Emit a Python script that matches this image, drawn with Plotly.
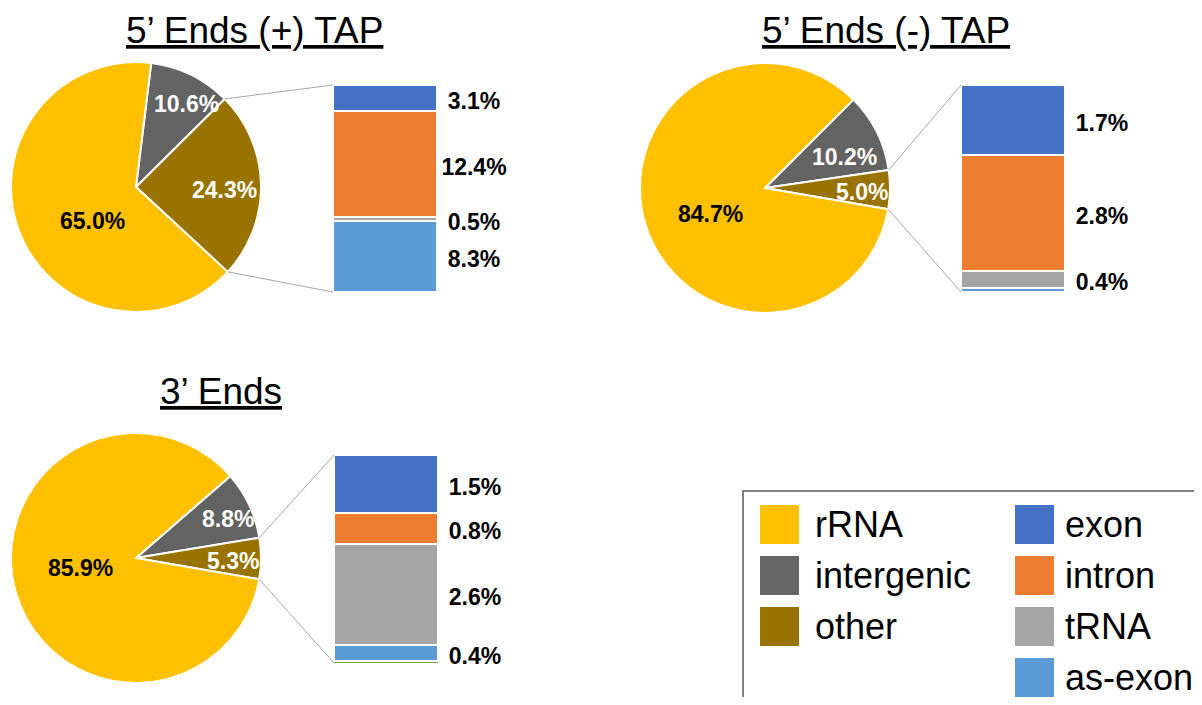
import math
import plotly.graph_objects as go

W, H = 1202, 705
OFF = 8  # page body margin around the plot div
FIG_W, FIG_H = W - 2 * OFF, H - 2 * OFF  # fits the window without scrollbars
FONT = "Liberation Sans, Arial, sans-serif"

# ---- data -------------------------------------------------------------
pie_labels = ["intergenic", "other", "rRNA"]
pie_colors = ["#636363", "#997300", "#FFC000"]
pie_text_colors = ["white", "white", "black"]

bar_labels = ["exon", "intron", "tRNA", "as-exon", "minor"]
bar_colors = ["#4472C4", "#ED7D31", "#A5A5A5", "#5B9BD5", "#70AD47"]

titles = ["5’ Ends (+) TAP", "5’ Ends (-) TAP", "3’ Ends"]

plus_tap_pie = [10.6, 24.3, 65.0]
minus_tap_pie = [10.2, 5.0, 84.7]
three_end_pie = [8.8, 5.3, 85.9]

plus_tap_bar = [3.1, 12.4, 0.5, 8.3, 0.0]
minus_tap_bar = [1.7, 2.8, 0.4, 0.1, 0.0]
three_end_bar = [1.5, 0.8, 2.6, 0.4, 0.06]

legend_left = ["rRNA", "intergenic", "other"]
legend_left_colors = ["#FFC000", "#666666", "#997300"]
legend_right = ["exon", "intron", "tRNA", "as-exon"]
legend_right_colors = ["#4472C4", "#ED7D31", "#A5A5A5", "#5B9BD5"]

# ---- panel geometry (window pixels) -----------------------------------
# lab: per slice (angle shift in degrees, radius fraction) for the slice labels
panels = [
    dict(pie=plus_tap_pie, bar=plus_tap_bar, title=titles[0],
         cx=136, cy=187, r=125, rot=7, bx=(333, 437), by=(85, 292), tx=254, ty=30,
         lab=[(5, 0.78), (3, 0.71), (-18, 0.445)]),
    dict(pie=minus_tap_pie, bar=minus_tap_bar, title=titles[1],
         cx=765, cy=188, r=125, rot=45, bx=(961, 1065), by=(85, 292), tx=886, ty=30,
         lab=[(5.5, 0.68), (1.4, 0.78), (-8, 0.48)]),
    dict(pie=three_end_pie, bar=three_end_bar, title=titles[2],
         cx=136, cy=558, r=125, rot=49, bx=(334, 438), by=(455, 663), tx=221, ty=391,
         lab=[(2, 0.80), (1.7, 0.78), (5.5, 0.455)]),
]
LABEL_AREA = 80  # px to the right of each bar kept for the value labels
LABEL_DX = 37    # px from bar right edge to label centre
LABEL_DY = 5     # px the value labels sit below the segment middle


def px(x):
    return (x - OFF) / FIG_W


def py(y):
    return 1 - (y - OFF) / FIG_H


fig = go.Figure()
shapes = []
annotations = []

for i, p in enumerate(panels):
    n = "" if i == 0 else str(i + 1)

    # pie
    fig.add_trace(
        go.Pie(
            labels=pie_labels,
            values=p["pie"],
            sort=False,
            direction="clockwise",
            rotation=p["rot"],
            marker=dict(colors=pie_colors, line=dict(color="white", width=2)),
            textinfo="none",
            domain=dict(
                x=[px(p["cx"] - p["r"]), px(p["cx"] + p["r"])],
                y=[py(p["cy"] + p["r"]), py(p["cy"] - p["r"])],
            ),
            showlegend=False,
            hoverinfo="label+value",
        )
    )

    # slice labels, placed from the slice angles
    vt = sum(p["pie"])
    start = p["rot"]
    for val, tc, (da, fr) in zip(p["pie"], pie_text_colors, p["lab"]):
        span = 360 * val / vt
        mid = math.radians(start + span / 2 + da)
        rr = p["r"] * fr
        annotations.append(dict(
            text=f"<b>{val:.1f}%</b>", xref="paper", yref="paper",
            x=px(p["cx"] + rr * math.sin(mid)), y=py(p["cy"] - rr * math.cos(mid)),
            xanchor="center", yanchor="middle", showarrow=False,
            font=dict(family=FONT, size=23, color=tc),
        ))
        start += span

    # stacked bar (bottom to top: reversed order so exon ends on top)
    xa, ya = "x" + n, "y" + n
    for lab, col, val in reversed(list(zip(bar_labels, bar_colors, p["bar"]))):
        if val <= 0:
            continue
        fig.add_trace(
            go.Bar(
                x=[0], y=[val], width=1, name=lab,
                marker=dict(color=col, line=dict(color="white", width=0 if lab == "minor" else 2)),
                xaxis=xa, yaxis=ya, showlegend=False,
            )
        )

    # bar value labels at segment middles
    total = sum(p["bar"])
    bar_w = p["bx"][1] - p["bx"][0]
    bar_h = p["by"][1] - p["by"][0]
    shift = LABEL_DY * total / bar_h
    ys, texts = [], []
    cum = total
    for val in p["bar"]:
        mid = cum - val / 2
        cum -= val
        if val >= 0.3:
            ys.append(mid - shift)
            texts.append(f"<b>{val:.1f}%</b>")
    fig.add_trace(
        go.Scatter(
            x=[0.5 + LABEL_DX / bar_w] * len(ys), y=ys, text=texts, mode="text",
            textposition="middle center",
            textfont=dict(family=FONT, size=23, color="black"),
            cliponaxis=False, xaxis=xa, yaxis=ya, showlegend=False, hoverinfo="skip",
        )
    )

    axis_common = dict(visible=False, fixedrange=True)
    fig.update_layout(**{
        "xaxis" + n: dict(domain=[px(p["bx"][0]), px(p["bx"][1] + LABEL_AREA)],
                          range=[-0.5, 0.5 + LABEL_AREA / bar_w], anchor=ya, **axis_common),
        "yaxis" + n: dict(domain=[py(p["by"][1]), py(p["by"][0])], range=[0, total],
                          anchor=xa, **axis_common),
    })

    # connector lines from the "other" slice edges to the bar corners
    a1 = math.radians(p["rot"] + 360 * p["pie"][0] / vt)
    a2 = math.radians(p["rot"] + 360 * (p["pie"][0] + p["pie"][1]) / vt)
    for a, by in ((a1, p["by"][0]), (a2, p["by"][1])):
        x0 = p["cx"] + p["r"] * math.sin(a)
        y0 = p["cy"] - p["r"] * math.cos(a)
        shapes.append(dict(type="line", xref="paper", yref="paper",
                           x0=px(x0), y0=py(y0), x1=px(p["bx"][0]), y1=py(by),
                           line=dict(color="#A6A6A6", width=1)))

    annotations.append(dict(
        text=p["title"], x=px(p["tx"]), y=py(p["ty"]), xref="paper", yref="paper",
        xanchor="center", yanchor="middle", showarrow=False,
        font=dict(family=FONT, size=37, color="black", lineposition="under"),
    ))

# ---- custom legend ----------------------------------------------------
shapes.append(dict(type="rect", xref="paper", yref="paper",
                   x0=px(743), y0=py(491), x1=px(1225), y1=py(730),
                   line=dict(color="#595959", width=1.5), fillcolor="rgba(0,0,0,0)"))

for col_x, text_gap, names, cols in ((760, 53, legend_left, legend_left_colors),
                                     (1015, 48, legend_right, legend_right_colors)):
    for k, (nm, c) in enumerate(zip(names, cols)):
        top = 505 + 51 * k
        shapes.append(dict(type="rect", xref="paper", yref="paper",
                           x0=px(col_x), x1=px(col_x + 39), y0=py(top + 39), y1=py(top),
                           fillcolor=c, line=dict(width=0)))
        annotations.append(dict(
            text=nm, x=px(col_x + text_gap), y=py(top + 19.5), xref="paper", yref="paper",
            xanchor="left", yanchor="middle", showarrow=False,
            font=dict(family=FONT, size=36, color="black"),
        ))

fig.update_layout(
    width=FIG_W, height=FIG_H,
    margin=dict(l=0, r=0, t=0, b=0),
    paper_bgcolor="white", plot_bgcolor="white",
    barmode="stack", bargap=0,
    shapes=shapes, annotations=annotations,
)

fig.write_html("out.html")
